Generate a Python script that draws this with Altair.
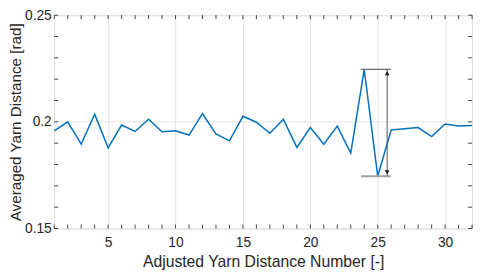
import altair as alt
import pandas as pd

# ---- data ----
yarn_no = list(range(1, 33))
avg_dist = [0.1958, 0.2000, 0.1895, 0.2036, 0.1878, 0.1985, 0.1955, 0.2012,
            0.1953, 0.1958, 0.1938, 0.2038, 0.1943, 0.1911, 0.2026, 0.1998,
            0.1946, 0.2012, 0.1880, 0.1973, 0.1895, 0.1980, 0.1853, 0.2246,
            0.1745, 0.1962, 0.1968, 0.1973, 0.1931, 0.1990, 0.1980, 0.1983]

x_major = [5, 10, 15, 20, 25, 30]
y_major = [0.15, 0.2, 0.25]
x_minor = list(range(1, 33))
y_minor = [0.15, 0.16, 0.17, 0.18, 0.19, 0.20, 0.21, 0.22, 0.23, 0.24, 0.25]

ann_top = 0.2246
ann_bot = 0.1745
ann_x1 = 23.75
ann_x2 = 25.97
arrow_x = 25.7

W, H = 425, 217
TXT = "#262626"
FONT = "Liberation Sans"

df = pd.DataFrame({"n": yarn_no, "v": avg_dist})
xdf = pd.DataFrame({"n": x_minor})
ydf = pd.DataFrame({"v": y_minor})
top_df = pd.DataFrame({"n": [ann_x1], "n2": [ann_x2], "v": [ann_top]})
bot_df = pd.DataFrame({"n": [ann_x1], "n2": [ann_x2], "v": [ann_bot]})
vl = pd.DataFrame({"n": [arrow_x], "v": [ann_top], "v2": [ann_bot]})
head_top = pd.DataFrame({"n": [arrow_x], "v": [ann_top]})
head_bot = pd.DataFrame({"n": [arrow_x], "v": [ann_bot]})

xs = alt.Scale(domain=[1, 32], nice=False, zero=False)
ys = alt.Scale(domain=[0.15, 0.25], nice=False, zero=False)

X = alt.X("n:Q", scale=xs, title="Adjusted Yarn Distance Number [-]",
          axis=alt.Axis(values=x_major, grid=True, gridColor="#e3e3e3", tickSize=0,
                        domain=False, labelPadding=7, titlePadding=5,
                        labelFontSize=14, titleFontSize=16, labelColor=TXT,
                        titleColor=TXT, labelFont=FONT, titleFont=FONT,
                        titleFontWeight="normal"))
Y = alt.Y("v:Q", scale=ys, title="Averaged Yarn Distance [rad]",
          axis=alt.Axis(values=y_major, grid=True, gridColor="#e3e3e3", tickSize=0,
                        domain=False, labelPadding=3, titlePadding=1, format="~g",
                        labelFontSize=14, titleFontSize=15.5, labelColor=TXT,
                        titleColor=TXT, labelFont=FONT, titleFont=FONT,
                        titleFontWeight="normal"))

line = alt.Chart(df).mark_line(color="#0072BD", strokeWidth=1.5).encode(x=X, y=Y)

tick_col = "#404040"
tb = alt.Chart(xdf).mark_rule(color=tick_col, strokeWidth=1).encode(
    x=X, y=alt.value(H), y2=alt.value(H - 4))
tt = alt.Chart(xdf).mark_rule(color=tick_col, strokeWidth=1).encode(
    x=X, y=alt.value(0), y2=alt.value(4))
tl = alt.Chart(ydf).mark_rule(color=tick_col, strokeWidth=1).encode(
    y=Y, x=alt.value(0), x2=alt.value(4))
tr = alt.Chart(ydf).mark_rule(color=tick_col, strokeWidth=1).encode(
    y=Y, x=alt.value(W - 4), x2=alt.value(W))

hl_top = alt.Chart(top_df).mark_rule(color="#6e6e6e", strokeWidth=1.3).encode(x=X, x2="n2:Q", y=Y)
hl_bot = alt.Chart(bot_df).mark_rule(color="#a0a0a0", strokeWidth=2).encode(x=X, x2="n2:Q", y=Y)
vline = alt.Chart(vl).mark_rule(color="#505050", strokeWidth=1).encode(x=X, y=Y, y2="v2:Q")
ah_top = alt.Chart(head_top).mark_point(filled=True, color="#111111", size=22, opacity=1,
                                        shape="triangle-up", yOffset=4).encode(x=X, y=Y)
ah_bot = alt.Chart(head_bot).mark_point(filled=True, color="#111111", size=22, opacity=1,
                                        shape="triangle-down", yOffset=-4).encode(x=X, y=Y)

chart = alt.layer(line, tb, tt, tl, tr, hl_top, hl_bot, vline, ah_top, ah_bot).properties(
    width=W, height=H,
    autosize=alt.AutoSizeParams(type="none"),
    padding={"left": 47, "top": 5, "right": 4, "bottom": 44},
).configure_view(stroke="#262626", strokeWidth=1).configure(background="white")

chart.save("out.html", embed_options={"renderer": "svg", "actions": False})
